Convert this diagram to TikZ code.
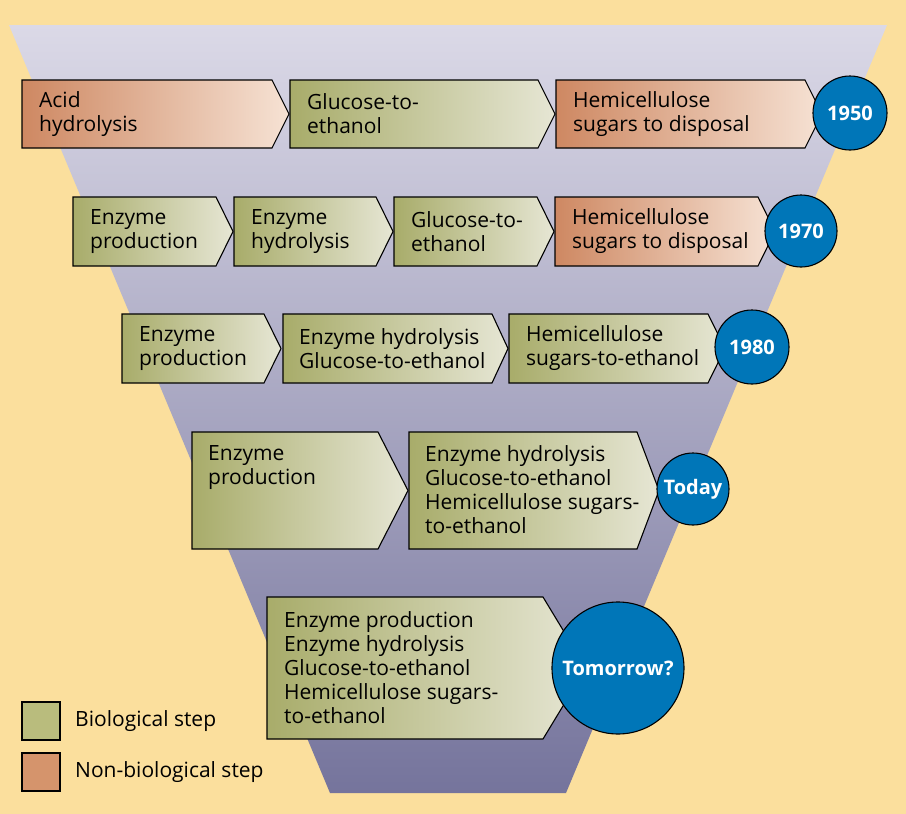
\documentclass[tikz,border=0pt]{standalone}
\usepackage{fontspec}
\setmainfont{Open Sans}

\definecolor{bgyellow}{RGB}{251,223,157}
\definecolor{funneltop}{RGB}{219,217,231}
\definecolor{funnelbot}{RGB}{117,116,156}
\definecolor{greenL}{RGB}{168,172,106}
\definecolor{greenR}{RGB}{230,230,212}
\definecolor{orangeL}{RGB}{206,136,98}
\definecolor{orangeR}{RGB}{246,226,212}
\definecolor{legendgreen}{RGB}{185,188,125}
\definecolor{legendorange}{RGB}{213,148,108}
\definecolor{yearblue}{RGB}{0,118,184}

\tikzset{
  stepbio/.style={left color=greenL, right color=greenR, draw=black, line width=1.1pt},
  stepnon/.style={left color=orangeL, right color=orangeR, draw=black, line width=1.1pt},
  steptext/.style={anchor=west, align=left, inner sep=0pt, font=\fontsize{21}{24}\selectfont},
  year/.style={circle, draw=black, line width=1.1pt, fill=yearblue, text=white,
    inner sep=0pt, minimum size=74pt, font=\fontsize{20}{24}\selectfont\bfseries}
}

\begin{document}
\begin{tikzpicture}[x=1pt, y=-1pt]
\useasboundingbox (0,0) rectangle (906,814);
% фон и воронка
\fill[bgyellow] (0,0) rectangle (906,814);
\shade[top color=funneltop, bottom color=funnelbot] (9,25) -- (887,25) -- (566,793) -- (330,793) -- cycle;
% 1950
\shade[stepnon] (22,80) -- (272,80) -- (289,114) -- (272,148) -- (22,148) -- cycle;
\shade[stepbio] (290,80) -- (538,80) -- (555,114) -- (538,148) -- (290,148) -- cycle;
\shade[stepnon] (556,80) -- (805,80) -- (822,114) -- (805,148) -- (556,148) -- cycle;
\node[steptext] (acid50) at (39,114) {Acid\\hydrolysis};
\node[steptext] (glu50) at (307,114) {Glucose-to-\\ethanol};
\node[steptext] (hemi50) at (573,114) {Hemicellulose\\sugars to disposal};
\node[year] (y1950) at (850,113) {1950};
% 1970
\shade[stepbio] (73,197) -- (216,197) -- (233,231.5) -- (216,266) -- (73,266) -- cycle;
\shade[stepbio] (234,197) -- (376,197) -- (393,231.5) -- (376,266) -- (234,266) -- cycle;
\shade[stepbio] (394,197) -- (537,197) -- (554,231.5) -- (537,266) -- (394,266) -- cycle;
\shade[stepnon] (555,197) -- (758,197) -- (775,231.5) -- (758,266) -- (555,266) -- cycle;
\node[steptext] (prod70) at (90,231.5) {Enzyme\\production};
\node[steptext] (hyd70) at (251,231.5) {Enzyme\\hydrolysis};
\node[steptext] (glu70) at (411,231.5) {Glucose-to-\\ethanol};
\node[steptext] (hemi70) at (572,231.5) {Hemicellulose\\sugars to disposal};
\node[year, minimum size=72pt] (y1970) at (801,231) {1970};
% 1980
\shade[stepbio] (122,314) -- (264,314) -- (281,348.5) -- (264,383) -- (122,383) -- cycle;
\shade[stepbio] (283,314) -- (492,314) -- (508,348.5) -- (492,383) -- (283,383) -- cycle;
\shade[stepbio] (509,314) -- (708,314) -- (725,348.5) -- (708,383) -- (509,383) -- cycle;
\node[steptext] (prod80) at (139,348.5) {Enzyme\\production};
\node[steptext] (hyd80) at (299,348.5) {Enzyme hydrolysis\\Glucose-to-ethanol};
\node[steptext] (hemi80) at (526,348.5) {Hemicellulose\\sugars-to-ethanol};
\node[year] (y1980) at (752,347) {1980};
% сегодня
\shade[stepbio] (192,432) -- (378,432) -- (408,490.5) -- (378,549) -- (192,549) -- cycle;
\shade[stepbio] (409,432) -- (637,432) -- (659,490.5) -- (637,549) -- (409,549) -- cycle;
\node[steptext, anchor=north west] (prodT) at (208,445) {Enzyme\\production};
\node[steptext, anchor=north west] (restT) at (425,445) {Enzyme hydrolysis\\Glucose-to-ethanol\\Hemicellulose sugars-\\to-ethanol};
\node[year, minimum size=72pt] (today) at (693,489) {Today};
% завтра
\shade[stepbio] (267,597) -- (543,597) -- (586,668) -- (543,739) -- (267,739) -- cycle;
\node[steptext] (allM) at (284,668) {Enzyme production\\Enzyme hydrolysis\\Glucose-to-ethanol\\Hemicellulose sugars-\\to-ethanol};
\node[year, minimum size=132pt] (tomorrow) at (618,668) {Tomorrow?};
% легенда
\draw[fill=legendgreen, line width=1.1pt] (22,702) rectangle (60,740);
\draw[fill=legendorange, line width=1.1pt] (22,753) rectangle (60,791);
\node[steptext] (bio) at (75,721) {Biological step};
\node[steptext] (nonbio) at (75,772) {Non-biological step};
\end{tikzpicture}
\end{document}
